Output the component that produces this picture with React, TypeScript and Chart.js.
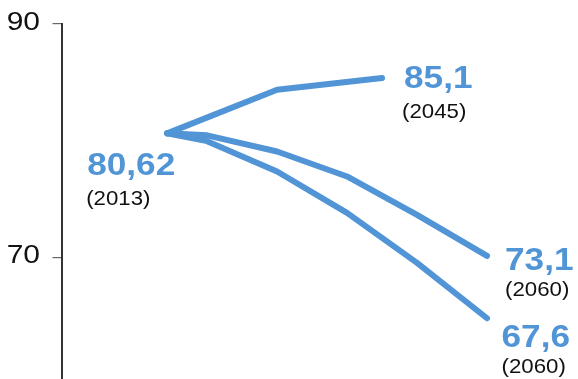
import React, { useEffect, useRef } from "react";
import { Chart, registerables } from "chart.js";

Chart.register(...registerables);

// Data
const upperYears = [2014.3, 2030, 2045];
const upperValues = [80.62, 84.36, 85.36];
const midYears = [2014.3, 2020, 2030, 2040, 2050, 2060];
const midValues = [80.62, 80.45, 79.06, 76.92, 73.63, 70.11];
const lowYears = [2014.3, 2020, 2030, 2040, 2050, 2060];
const lowValues = [80.62, 79.95, 77.35, 73.8, 69.51, 64.76];
const yTicks = [70, 90];
const valueLabels = ["80,62", "85,1", "73,1", "67,6"];
const yearLabels = ["(2013)", "(2045)", "(2060)", "(2060)"];

const BLUE = "#5195d6";
const FONT = "'Liberation Sans', Arial, sans-serif";

function drawStretched(ctx: CanvasRenderingContext2D, text: string, x: number, y: number, font: string, color: string, sx: number, align: "left" | "right" = "left") {
  ctx.save();
  ctx.font = font;
  ctx.fillStyle = color;
  ctx.textBaseline = "alphabetic";
  ctx.textAlign = align;
  ctx.translate(x, y);
  ctx.scale(sx, 1);
  ctx.fillText(text, 0, 0);
  ctx.restore();
}

const labelPlugin = {
  id: "labelPlugin",
  afterDraw(chart: any) {
    const ctx: CanvasRenderingContext2D = chart.ctx;
    const xs = chart.scales.x;
    const ys = chart.scales.y;
    // tick labels
    yTicks.forEach((v) => {
      const py = ys.getPixelForValue(v);
      drawStretched(ctx, String(v), chart.chartArea.left - 21.5, py + 6.2, `25px ${FONT}`, "#111", 1.2, "right");
    });
    const anchors = [
      { x: xs.getPixelForValue(midYears[0]), y: ys.getPixelForValue(midValues[0]), dx: -80, dv: 42, dyr: 72, dxy: -81 },
      { x: xs.getPixelForValue(upperYears[upperYears.length - 1]), y: ys.getPixelForValue(upperValues[upperValues.length - 1]), dx: 22, dv: 9.5, dyr: 40, dxy: 20 },
      { x: xs.getPixelForValue(midYears[midYears.length - 1]), y: ys.getPixelForValue(midValues[midValues.length - 1]), dx: 18, dv: 14, dyr: 40.5, dxy: 18 },
      { x: xs.getPixelForValue(lowYears[lowYears.length - 1]), y: ys.getPixelForValue(lowValues[lowValues.length - 1]), dx: 14.5, dv: 28.5, dyr: 55, dxy: 14.5 },
    ];
    anchors.forEach((a, i) => {
      drawStretched(ctx, valueLabels[i], a.x + a.dx, a.y + a.dv, `bold 32px ${FONT}`, BLUE, 1.1);
      drawStretched(ctx, yearLabels[i], a.x + a.dxy, a.y + a.dyr, `21px ${FONT}`, "#111", 1.06);
    });
  },
};

export default function App() {
  const ref = useRef<HTMLCanvasElement>(null);
  useEffect(() => {
    if (!ref.current) return;
    const mk = (xs: number[], vs: number[]) => xs.map((x, i) => ({ x, y: vs[i] }));
    const ds = (data: any) => ({
      data,
      borderColor: BLUE,
      borderWidth: 6,
      borderCapStyle: "round" as const,
      borderJoinStyle: "round" as const,
      pointRadius: 0,
      tension: 0,
      fill: false,
    });
    const chart = new Chart(ref.current, {
      type: "line",
      data: {
        datasets: [ds(mk(upperYears, upperValues)), ds(mk(midYears, midValues)), ds(mk(lowYears, lowValues))],
      },
      options: {
        animation: false,
        responsive: false,
        devicePixelRatio: 1,
        layout: { padding: { left: 52.5, top: 24, right: 0, bottom: 0 } },
        plugins: { legend: { display: false }, tooltip: { enabled: false } },
        scales: {
          x: { type: "linear", display: false, min: 1999.2, max: 2073 },
          y: {
            type: "linear",
            min: 59.55,
            max: 90,
            afterBuildTicks: (axis: any) => {
              axis.ticks = yTicks.map((v) => ({ value: v }));
            },
            ticks: { display: false },
            grid: { display: true, drawOnChartArea: false, drawTicks: true, tickLength: 9, color: "#666", lineWidth: 1.2 },
            border: { display: true, color: "#333", width: 2 },
          },
        },
      },
      plugins: [labelPlugin],
    });
    return () => chart.destroy();
  }, []);
  return (
    <div style={{ position: "fixed", left: 0, top: 0, width: 578, height: 379, background: "#fff" }}>
      <canvas ref={ref} width={578} height={379} />
    </div>
  );
}
